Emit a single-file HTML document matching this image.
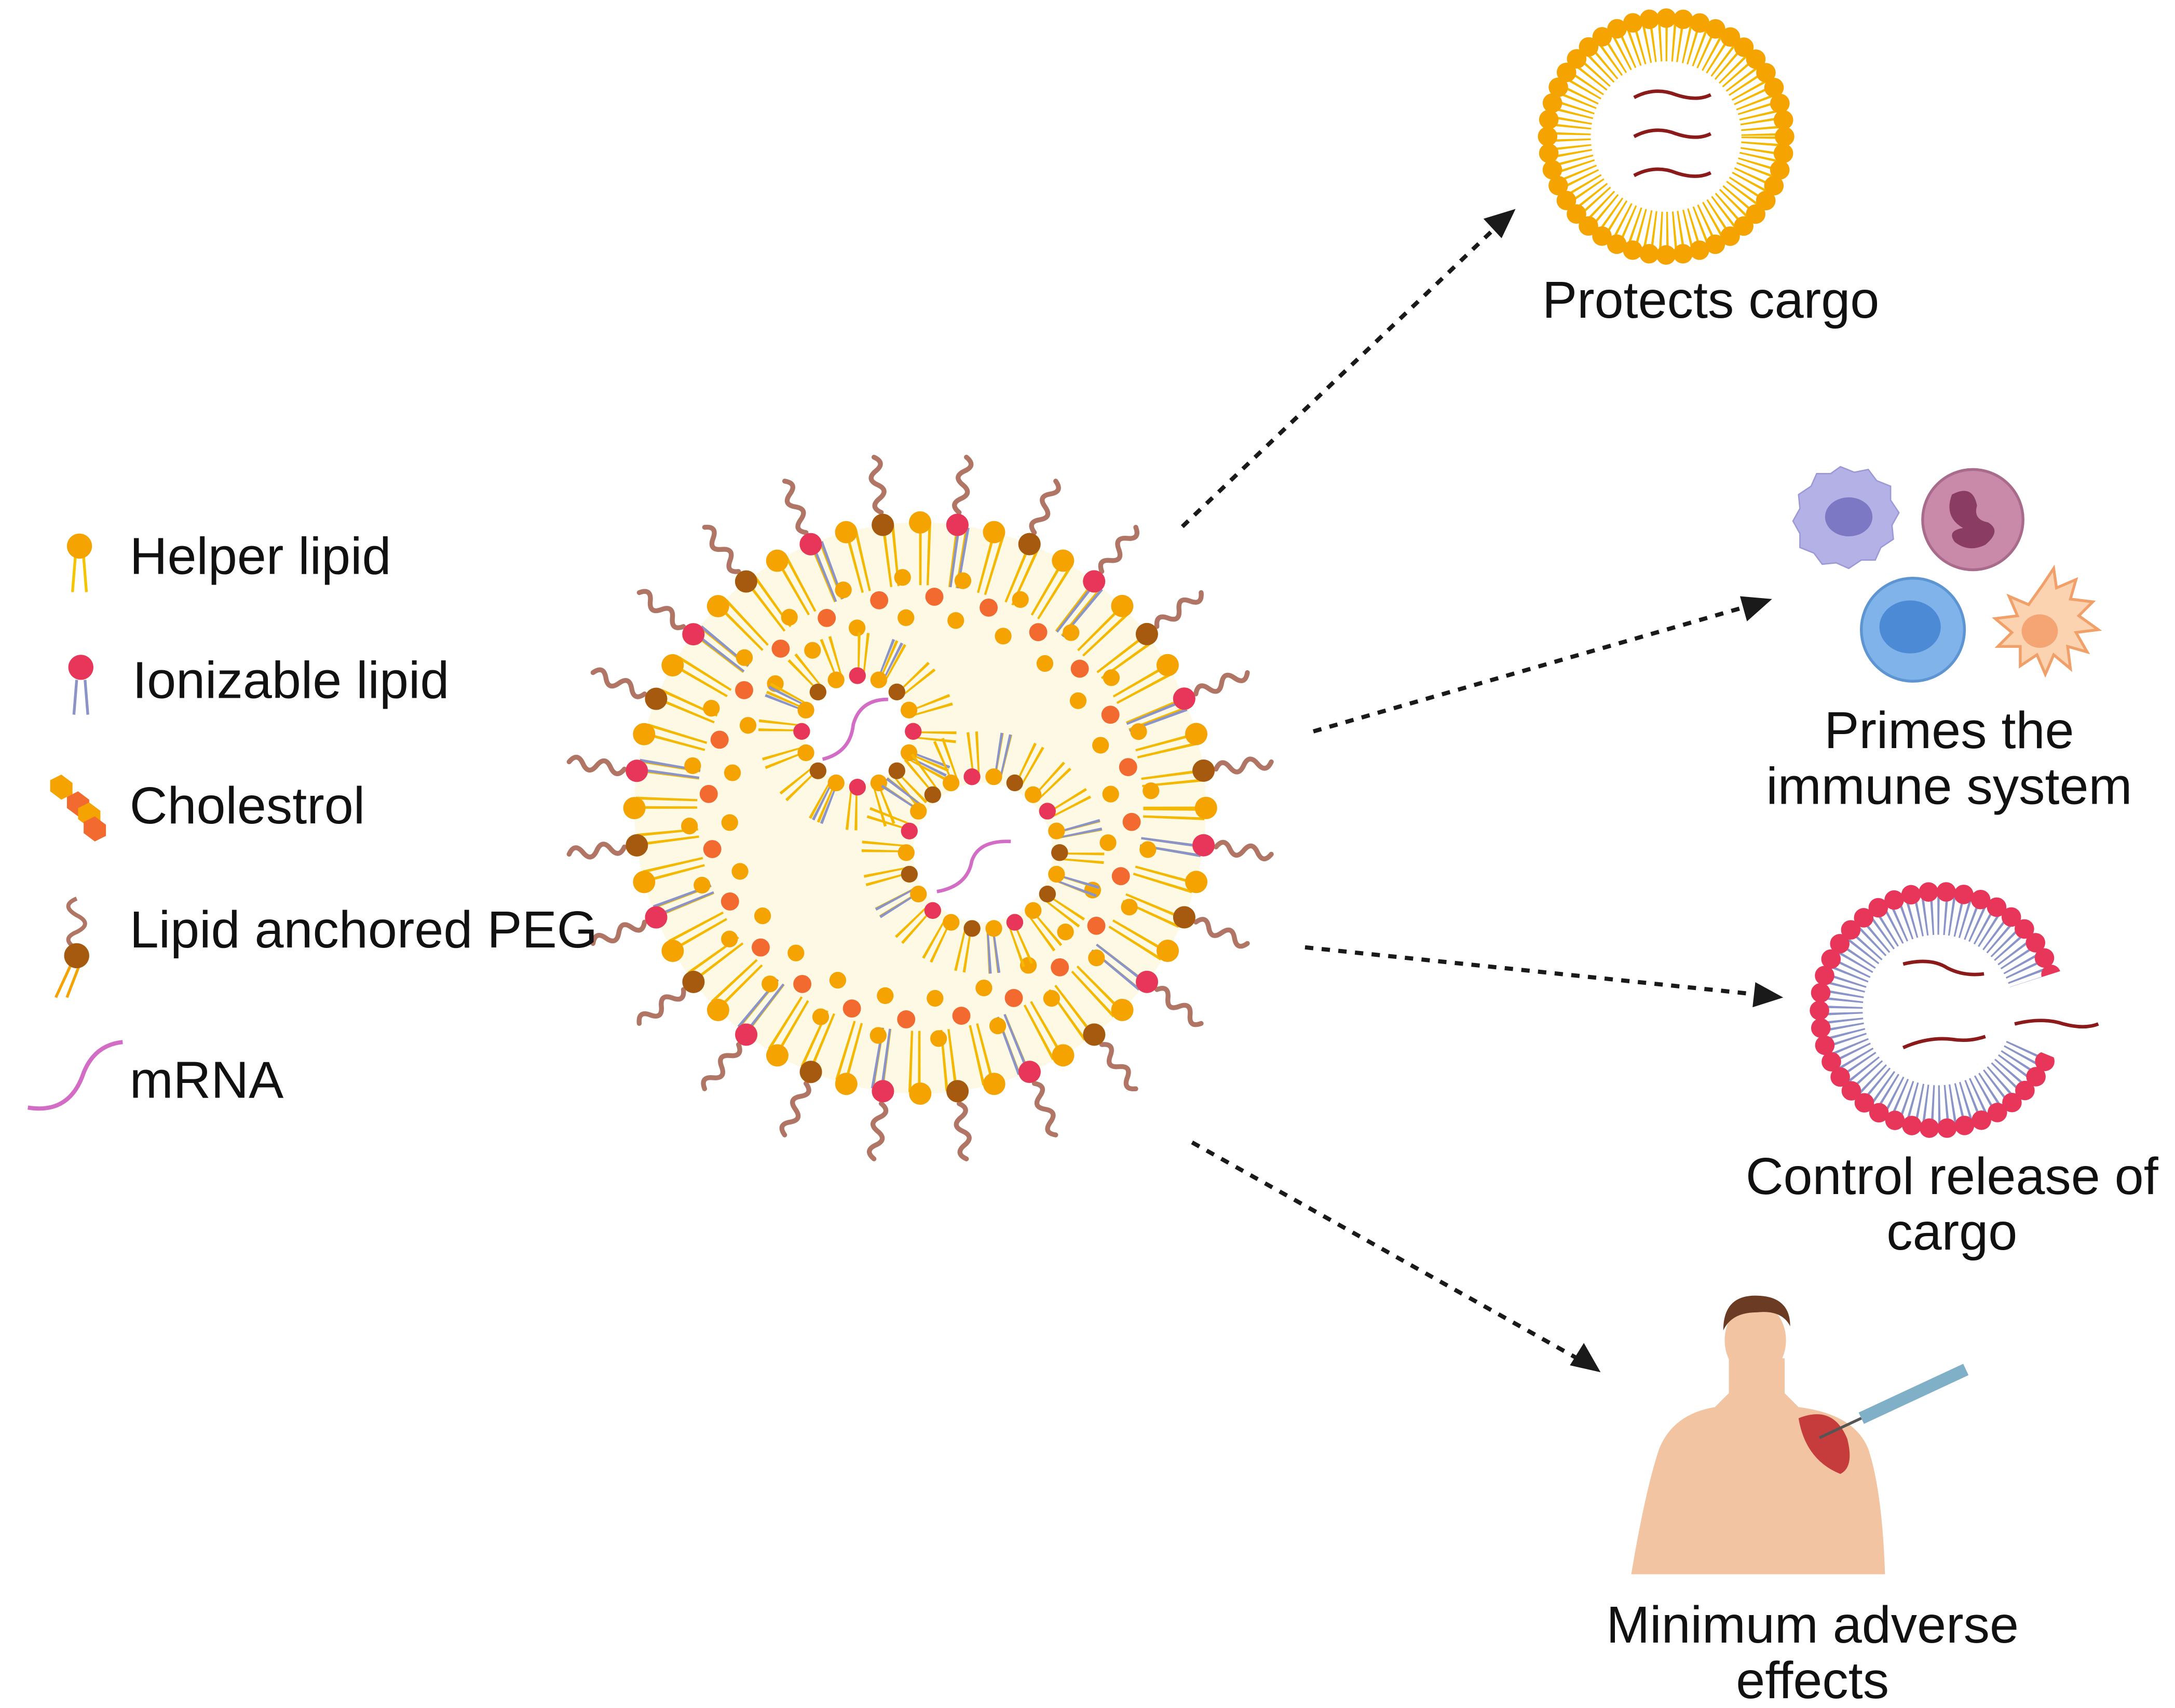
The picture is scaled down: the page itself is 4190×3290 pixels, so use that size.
<!DOCTYPE html>
<html><head><meta charset="utf-8"><style>
html,body{margin:0;padding:0;background:#fff;}
svg{display:block;}
text{font-family:"Liberation Sans",sans-serif;fill:#111;}
</style></head><body>
<svg width="4190" height="3290" viewBox="0 0 1560 1226" preserveAspectRatio="none" xmlns="http://www.w3.org/2000/svg" xmlns:xlink="http://www.w3.org/1999/xlink">
<defs>
<path id="peg" d="M874,580 q5,-8 10,0 q5,8 10,0 q5,-8 10,0 q5,8 10,0" fill="none" stroke="#b07565" stroke-width="3.5" stroke-linecap="round"/>
</defs>

<g>
<g id="pegs">
<use xlink:href="#peg" transform="rotate(7.5 660 580)"/>
<use xlink:href="#peg" transform="rotate(22.5 660 580)"/>
<use xlink:href="#peg" transform="rotate(37.5 660 580)"/>
<use xlink:href="#peg" transform="rotate(52.5 660 580)"/>
<use xlink:href="#peg" transform="rotate(67.5 660 580)"/>
<use xlink:href="#peg" transform="rotate(82.5 660 580)"/>
<use xlink:href="#peg" transform="rotate(97.5 660 580)"/>
<use xlink:href="#peg" transform="rotate(112.5 660 580)"/>
<use xlink:href="#peg" transform="rotate(127.5 660 580)"/>
<use xlink:href="#peg" transform="rotate(142.5 660 580)"/>
<use xlink:href="#peg" transform="rotate(157.5 660 580)"/>
<use xlink:href="#peg" transform="rotate(172.5 660 580)"/>
<use xlink:href="#peg" transform="rotate(187.5 660 580)"/>
<use xlink:href="#peg" transform="rotate(202.5 660 580)"/>
<use xlink:href="#peg" transform="rotate(217.5 660 580)"/>
<use xlink:href="#peg" transform="rotate(232.5 660 580)"/>
<use xlink:href="#peg" transform="rotate(247.5 660 580)"/>
<use xlink:href="#peg" transform="rotate(262.5 660 580)"/>
<use xlink:href="#peg" transform="rotate(277.5 660 580)"/>
<use xlink:href="#peg" transform="rotate(292.5 660 580)"/>
<use xlink:href="#peg" transform="rotate(307.5 660 580)"/>
<use xlink:href="#peg" transform="rotate(322.5 660 580)"/>
<use xlink:href="#peg" transform="rotate(337.5 660 580)"/>
<use xlink:href="#peg" transform="rotate(352.5 660 580)"/>
</g>
<circle cx="660" cy="580" r="205" fill="#fdf9e4"/>
<circle cx="660" cy="580" r="182" fill="none" stroke="#f5b800" stroke-width="44" stroke-dasharray="1.8 4.2 1.8 16"/>
<circle cx="660" cy="580" r="182" fill="none" stroke="#8a94c8" stroke-width="44" stroke-dasharray="1.8 4.2 1.8 87.5" stroke-dashoffset="-23.8"/>
<circle cx="660" cy="580" r="152" fill="none" stroke="#f26a30" stroke-width="13" stroke-dasharray="0 39.8" stroke-linecap="round" stroke-dashoffset="-10"/>
<circle cx="660" cy="580" r="137" fill="none" stroke="#f5a300" stroke-width="12" stroke-dasharray="0 35.9" stroke-linecap="round" stroke-dashoffset="-25"/>
<circle cx="660" cy="580" r="166" fill="none" stroke="#f5a300" stroke-width="12" stroke-dasharray="0 43.5" stroke-linecap="round" stroke-dashoffset="-30"/>
<circle cx="660" cy="580" r="205" fill="none" stroke="#f5a300" stroke-width="16" stroke-linecap="round" stroke-dasharray="0 26.83"/>
<circle cx="660" cy="580" r="205" fill="none" stroke="#e8365a" stroke-width="16" stroke-linecap="round" stroke-dasharray="0 107.32" stroke-dashoffset="-26.83"/>
<circle cx="660" cy="580" r="205" fill="none" stroke="#a65a10" stroke-width="16" stroke-linecap="round" stroke-dasharray="0 107.32" stroke-dashoffset="-80.49"/>

<circle cx="615" cy="525" r="56" fill="none" stroke="#f5b800" stroke-width="30" stroke-dasharray="1.6 3.5 1.6 15.3"/>
<circle cx="615" cy="525" r="56" fill="none" stroke="#8a94c8" stroke-width="30" stroke-dasharray="1.6 3.5 1.6 81.3" stroke-dashoffset="-20"/>
<circle cx="615" cy="525" r="38" fill="#fff"/>
<circle cx="615" cy="525" r="40" fill="none" stroke="#f5a300" stroke-width="12" stroke-linecap="round" stroke-dasharray="0 15.7"/>
<circle cx="615" cy="525" r="40" fill="none" stroke="#e8365a" stroke-width="12" stroke-linecap="round" stroke-dasharray="0 62.8"/>
<circle cx="615" cy="525" r="40" fill="none" stroke="#a65a10" stroke-width="12" stroke-linecap="round" stroke-dasharray="0 62.8" stroke-dashoffset="-31.4"/>
<path d="M590,545 q20,-5 22,-25 q5,-18 25,-18" fill="none" stroke="#d36cc5" stroke-width="2.5"/>
<circle cx="705" cy="612" r="71" fill="none" stroke="#f5b800" stroke-width="32" stroke-dasharray="1.6 3.5 1.6 13.6"/>
<circle cx="705" cy="612" r="71" fill="none" stroke="#8a94c8" stroke-width="32" stroke-dasharray="1.6 3.5 1.6 74.5" stroke-dashoffset="-20"/>
<circle cx="705" cy="612" r="50" fill="#fff"/>
<circle cx="705" cy="612" r="55" fill="none" stroke="#f5a300" stroke-width="12" stroke-linecap="round" stroke-dasharray="0 15.7"/>
<circle cx="705" cy="612" r="55" fill="none" stroke="#e8365a" stroke-width="12" stroke-linecap="round" stroke-dasharray="0 62.8"/>
<circle cx="705" cy="612" r="55" fill="none" stroke="#a65a10" stroke-width="12" stroke-linecap="round" stroke-dasharray="0 62.8" stroke-dashoffset="-31.4"/>
<path d="M672,640 q22,-4 25,-22 q5,-15 28,-14" fill="none" stroke="#d36cc5" stroke-width="2.5"/>
</g>

<g>
<circle cx="1195" cy="98" r="69" fill="none" stroke="#f5b800" stroke-width="30" stroke-dasharray="1.5 3 1.5 3.7"/>
<circle cx="1195" cy="98" r="54" fill="#fff"/>
<circle cx="1195" cy="98" r="85" fill="none" stroke="#f5a300" stroke-width="14" stroke-linecap="round" stroke-dasharray="0 12.14"/>
<path d="M1172,70 q15,-8 30,-2 q15,5 25,0" fill="none" stroke="#8b1a1a" stroke-width="2.5"/>
<path d="M1172,98 q15,-8 30,-2 q15,5 25,0" fill="none" stroke="#8b1a1a" stroke-width="2.5"/>
<path d="M1172,126 q15,-8 30,-2 q15,5 25,0" fill="none" stroke="#8b1a1a" stroke-width="2.5"/>
</g>

<g>
<circle cx="1390" cy="725" r="69" fill="none" stroke="#8a94c8" stroke-width="30" stroke-dasharray="1.5 3 1.5 3.7"/>
<circle cx="1390" cy="725" r="54" fill="#fff"/>
<circle cx="1390" cy="725" r="85" fill="none" stroke="#e8365a" stroke-width="14" stroke-linecap="round" stroke-dasharray="0 12.7"/>
<path d="M1390,725 L1500,690 L1500,770 Z" fill="#fff"/>
<path d="M1365,692 q20,-5 32,3 q12,6 26,4" fill="none" stroke="#8b1a1a" stroke-width="2.5"/>
<path d="M1365,752 q18,-8 35,-6 q12,2 24,-2" fill="none" stroke="#8b1a1a" stroke-width="2.5"/>
<path d="M1445,735 q20,-5 35,0 q15,4 25,0" fill="none" stroke="#8b1a1a" stroke-width="2.5"/>
</g>

<g stroke="#1a1a1a" stroke-width="3" stroke-dasharray="6,6" fill="none">
<line x1="848" y1="378" x2="1072" y2="164"/>
<line x1="942" y1="525" x2="1254" y2="435"/>
<line x1="936" y1="680" x2="1262" y2="714"/>
<line x1="855" y1="820" x2="1133" y2="976"/>
</g>
<g fill="#1a1a1a">
<polygon points="1087,150 1064,157 1077,171"/>
<polygon points="1271,430 1248,428 1253,446"/>
<polygon points="1279,716 1259,705 1257,723"/>
<polygon points="1148,985 1136,964 1126,980"/>
</g>
<g>
<path d="M1320,335 l10,4 10,-2 6,8 10,4 0,10 6,9 -5,9 1,10 -9,6 -4,9 -10,0 -9,6 -9,-4 -10,1 -6,-8 -10,-4 0,-10 -5,-9 5,-9 -1,-10 9,-6 4,-9 10,0 Z" fill="#b3b1e6" stroke="#9c9ad6"/>
<ellipse cx="1326" cy="371" rx="17" ry="14" fill="#7c78c4"/>
<circle cx="1415" cy="373" r="36" fill="#c88aa8" stroke="#a96b8c" stroke-width="2"/>
<path d="M1400,355 q15,-8 18,8 q-3,10 8,12 q10,6 -2,16 q-12,6 -22,-2 q-6,-8 6,-10 q-14,-8 -8,-24Z" fill="#8a3c62"/>
<circle cx="1372" cy="452" r="37" fill="#7fb3ea" stroke="#5d95d3" stroke-width="2"/>
<ellipse cx="1370" cy="450" rx="22" ry="19" fill="#4d8ad6"/>
<path d="M1465,420 l8,-12 2,14 14,-6 -4,14 16,2 -10,10 14,10 -16,2 8,14 -14,-4 2,16 -12,-10 -6,14 -6,-14 -12,8 0,-14 -16,0 10,-10 -12,-10 16,-2 -6,-14 14,6 Z" fill="#fcd3b0" stroke="#f0a068" stroke-width="2"/>
<ellipse cx="1463" cy="453" rx="13" ry="12" fill="#f5a574"/>
</g>
<g>
<path d="M1170,1130 q10,-60 20,-90 q10,-25 40,-30 l10,-10 0,-25 40,0 0,25 10,10 q40,5 50,30 q10,30 12,90 Z" fill="#f2c4a2"/>
<ellipse cx="1259" cy="962" rx="22" ry="27" fill="#f2c4a2"/>
<path d="M1236,955 q0,-25 23,-25 q25,0 25,22 q-6,-12 -24,-10 q-18,0 -24,13Z" fill="#6b3b24"/>
<path d="M1290,1018 q25,-10 35,15 q5,20 -5,25 q-25,-10 -30,-40Z" fill="#c63c3c"/>
<line x1="1335" y1="1018" x2="1410" y2="983" stroke="#7fb0c8" stroke-width="9"/>
<line x1="1305" y1="1032" x2="1335" y2="1018" stroke="#555" stroke-width="2"/>
</g>
<g>
<line x1="54" y1="400" x2="52" y2="425" stroke="#f5c400" stroke-width="2"/><line x1="60" y1="400" x2="62" y2="425" stroke="#f5c400" stroke-width="2"/>
<circle cx="57" cy="392" r="9" fill="#f5a300"/>
<line x1="55" y1="488" x2="53" y2="513" stroke="#8a94c8" stroke-width="2"/><line x1="61" y1="488" x2="63" y2="513" stroke="#8a94c8" stroke-width="2"/>
<circle cx="58" cy="479" r="9" fill="#e8365a"/>
<polygon points="36,560 44,556 52,562 52,570 44,574 36,568" fill="#f5a300"/>
<polygon points="48,572 56,568 64,574 64,582 56,586 48,580" fill="#f26a30"/>
<polygon points="56,580 64,576 72,582 72,590 64,594 56,588" fill="#f5a300"/>
<polygon points="60,590 68,586 76,592 76,600 68,604 60,598" fill="#f26a30"/>
<path d="M55,645 q-12,5 0,12 q12,6 0,12 q-12,5 0,12" stroke="#b07565" stroke-width="3" fill="none"/>
<line x1="52" y1="690" x2="40" y2="716" stroke="#f5a300" stroke-width="2"/><line x1="58" y1="690" x2="48" y2="716" stroke="#f5a300" stroke-width="2"/>
<circle cx="55" cy="686" r="9" fill="#a65a10"/>
<path d="M20,795 q30,5 40,-25 q8,-20 28,-22" stroke="#d36cc5" stroke-width="3" fill="none"/>
<text x="93" y="412" font-size="37.5">Helper lipid</text>
<text x="95" y="501" font-size="37.5">Ionizable lipid</text>
<text x="93" y="591" font-size="37.5">Cholestrol</text>
<text x="93" y="680" font-size="37.5">Lipid anchored PEG</text>
<text x="93" y="788" font-size="37.5">mRNA</text>
<text x="1227" y="228" font-size="37.5" text-anchor="middle">Protects cargo</text>
<text x="1398" y="537" font-size="37.5" text-anchor="middle">Primes the</text>
<text x="1398" y="577" font-size="37.5" text-anchor="middle">immune system</text>
<text x="1400" y="857" font-size="37.5" text-anchor="middle">Control release of</text>
<text x="1400" y="897" font-size="37.5" text-anchor="middle">cargo</text>
<text x="1300" y="1179" font-size="37.5" text-anchor="middle">Minimum adverse</text>
<text x="1300" y="1219" font-size="37.5" text-anchor="middle">effects</text>
</g>
</svg>
</body></html>
